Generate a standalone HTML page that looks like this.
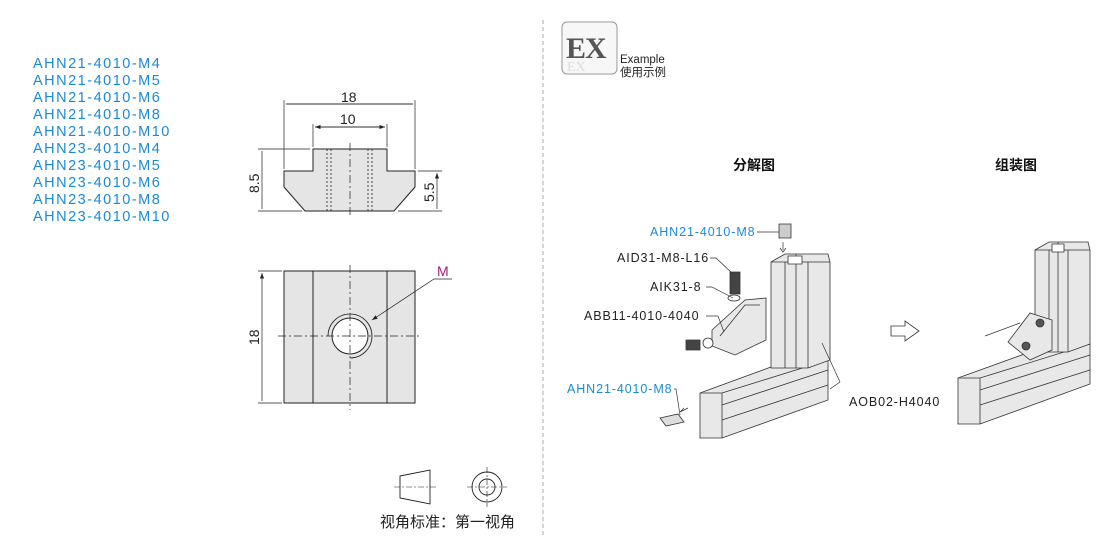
<!DOCTYPE html>
<html><head><meta charset="utf-8"><style>
body{margin:0;background:#fff;width:1110px;height:536px;overflow:hidden;font-family:"Liberation Sans","Noto Sans CJK SC",sans-serif}
svg{position:absolute;left:0;top:0}
</style></head><body>
<svg width="1110" height="536" viewBox="0 0 1110 536" font-family="Liberation Sans, Noto Sans CJK SC, sans-serif">
<defs><marker id="a" markerWidth="8" markerHeight="6" refX="8" refY="3" orient="auto"><path d="M0,0L8,3L0,6z" fill="#222"/></marker></defs>
<g fill="#1a8ad4" font-size="14.5" letter-spacing="1.5">
<text x="33" y="68">AHN21-4010-M4</text><text x="33" y="85">AHN21-4010-M5</text><text x="33" y="102">AHN21-4010-M6</text><text x="33" y="119">AHN21-4010-M8</text><text x="33" y="136">AHN21-4010-M10</text><text x="33" y="153">AHN23-4010-M4</text><text x="33" y="170">AHN23-4010-M5</text><text x="33" y="187">AHN23-4010-M6</text><text x="33" y="204">AHN23-4010-M8</text><text x="33" y="221">AHN23-4010-M10</text>
</g>
<!-- front view -->
<g stroke="#222" stroke-width="1" fill="none">
<path d="M313,149H387V171H415V187L394,211H305L284,187V171H313Z" fill="#e5e5e5"/>
<path d="M327,149V211M331,149V211M368,149V211M372,149V211" stroke-dasharray="2,2" stroke-width="0.8"/>
<path d="M350,143V218" stroke-dasharray="8,3,2,3" stroke-width="0.7"/>
<path d="M284,100V169M415,100V169M313,124V147M387,124V147" stroke-width="0.7"/>
<path d="M286,104H413M315,127H385" marker-end="url(#a)" stroke-width="0.7"/>
<path d="M413,104H286M385,127H315" marker-end="url(#a)" stroke-width="0.7"/>
<path d="M258,149H310M258,211H302M398,211H442M418,171H442" stroke-width="0.7"/>
<path d="M262,151V209M262,209V151M437,173V209M437,209V173" marker-end="url(#a)" stroke-width="0.7"/>
<rect x="284" y="271" width="131" height="132" fill="#e5e5e5"/>
<path d="M313,271V403M387,271V403"/>
<circle cx="350" cy="336" r="18" fill="#fff"/>
<path d="M328,336A22,22 0 1 1 350,358" stroke-width="0.8"/>
<path d="M278,336H420M350,265V410" stroke-dasharray="8,3,2,3" stroke-width="0.7"/>
<path d="M258,271H282M258,403H282" stroke-width="0.7"/>
<path d="M262,273V401M262,401V273" marker-end="url(#a)" stroke-width="0.7"/>
<path d="M452,279H434L372,320" stroke-width="0.7" marker-end="url(#a)"/>
</g>
<g font-size="14" fill="#222">
<text x="341" y="102">18</text><text x="340" y="124">10</text>
<text transform="translate(259,193) rotate(-90)">8.5</text>
<text transform="translate(434,202) rotate(-90)">5.5</text>
<text transform="translate(259,345) rotate(-90)">18</text>
<text x="437" y="276" fill="#a0207a">M</text>
</g>
<g stroke="#222" fill="none" stroke-width="0.9">
<path d="M400,476L430,470V504L400,498Z"/>
<path d="M394,487H436" stroke-dasharray="6,2,2,2" stroke-width="0.6"/>
<circle cx="487" cy="487" r="15"/><circle cx="487" cy="487" r="8"/>
<path d="M467,487H507M487,467V507" stroke-dasharray="6,2,2,2" stroke-width="0.6"/>
</g>
<text x="380" y="527" font-size="15" fill="#222">视角标准：第一视角</text>
<path d="M543,20V536" stroke="#aaa" stroke-dasharray="4,3"/>
<rect x="562" y="22" width="55" height="52" rx="5" fill="#f7f7f7" stroke="#999"/>
<text x="566" y="58" font-family="Liberation Serif,serif" font-weight="bold" font-size="30" fill="#555" letter-spacing="-1">EX</text>
<text x="567" y="71" font-family="Liberation Serif,serif" font-size="14" fill="#ddd">EX</text>
<text x="620" y="63" font-size="11.5" fill="#222">Example</text>
<text x="620" y="76" font-size="11.5" fill="#222">使用示例</text>
<text x="733" y="170" font-size="14" font-weight="bold" fill="#111">分解图</text>
<text x="995" y="170" font-size="14" font-weight="bold" fill="#111">组装图</text>
<g stroke="#333" stroke-width="0.8" fill="#e8e8e8">
<path d="M700,393L790,360H828V400L722,438H700Z"/>
<path d="M700,393L722,393L828,360M722,393V438M722,405L828,370M722,420L828,385"/>
<path d="M771,262L785,254H828L830,262V360L808,368H771Z"/>
<path d="M785,262V368M808,262V368M771,262H830M796,254V368"/>
<path d="M788,256h14v8h-14z" fill="#fff"/>
<path d="M712,330L745,300L766,298V340L735,355L712,346Z"/>
<path d="M720,336L745,305L760,305" fill="none"/>
<path d="M730,272h10v22h-10z" fill="#444"/>
<ellipse cx="734" cy="298" rx="6" ry="3" fill="#fff"/>
<path d="M686,340h14v10h-14z" fill="#444"/>
<circle cx="708" cy="343" r="5" fill="#fff"/>
<path d="M779,224h12v14h-12z" fill="#ccc"/>
<path d="M660,418l18,-4l6,8l-18,4z" fill="#ddd"/>
</g>
<g stroke="#333" stroke-width="0.7" fill="none">
<path d="M757,232H779M710,258H716L733,274M706,287H712L733,298M706,316H718L724,332M674,389H676L680,415M840,382L822,343M840,382L830,389"/>
<path d="M783,242v8M780,248l3,4l3,-4M680,412l8,-4M680,412l4,-4"/>
</g>
<g font-size="12.5" fill="#222" letter-spacing="0.9">
<text x="650" y="236" fill="#1a8ad4">AHN21-4010-M8</text>
<text x="617" y="262">AID31-M8-L16</text>
<text x="650" y="291">AIK31-8</text>
<text x="584" y="320">ABB11-4010-4040</text>
<text x="567" y="393" fill="#1a8ad4">AHN21-4010-M8</text>
<text x="849" y="406">AOB02-H4040</text>
</g>
<path d="M891,326H905V321L919,331L905,341V336H891Z" fill="#fff" stroke="#333" stroke-width="0.8"/>
<g stroke="#333" stroke-width="0.8" fill="#e8e8e8">
<path d="M958,378L1052,344H1090V384L980,424H958Z"/>
<path d="M958,378L980,378L1090,344M980,378V424M980,390L1090,355M980,405L1090,370"/>
<path d="M1035,250L1049,242H1088L1090,250V344L1068,352H1035Z"/>
<path d="M1049,250V352M1068,250V352M1035,250H1090M1058,242V352"/>
<path d="M1052,244h12v8h-12z" fill="#fff"/>
<path d="M1008,342L1030,313L1052,320V350L1030,360Z"/>
<path d="M985,336L1020,323" fill="none"/>
<circle cx="1026" cy="346" r="4" fill="#555"/><circle cx="1040" cy="323" r="4" fill="#555"/>
</g>
</svg>
</body></html>
